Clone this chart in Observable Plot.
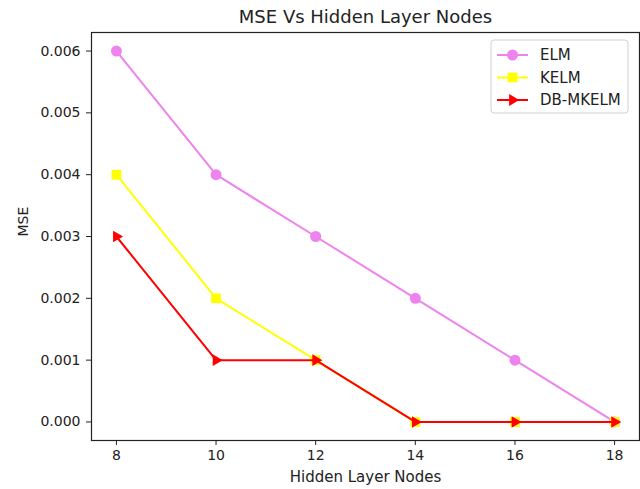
<!DOCTYPE html>
<html>
<head>
<meta charset="utf-8">
<script src="https://cdn.jsdelivr.net/npm/d3@7"></script>
<script src="https://cdn.jsdelivr.net/npm/@observablehq/plot@0.6"></script>
<style>
  html, body { margin: 0; padding: 0; background: #fff; }
  #chart { position: relative; width: 640px; height: 489px; }
</style>
</head>
<body>
<div id="chart"></div>
<script>
const nodes = [8, 10, 12, 14, 16, 18];
const elm = [0.006, 0.004, 0.003, 0.002, 0.001, 0.000];
const kelm = [0.004, 0.002, 0.001, 0.000, 0.000, 0.000];
const dbmkelm = [0.003, 0.001, 0.001, 0.000, 0.000, 0.000];
const seriesNames = ["ELM", "KELM", "DB-MKELM"];
const seriesColors = ["violet", "yellow", "red"];
const xTicks = [8, 10, 12, 14, 16, 18];
const yTicks = [0, 0.001, 0.002, 0.003, 0.004, 0.005, 0.006];
const title = "MSE Vs Hidden Layer Nodes";
const xLabel = "Hidden Layer Nodes";
const yLabel = "MSE";

const rows = (vals, name) => nodes.map((n, i) => ({ x: n, y: vals[i], s: name }));
const dElm = rows(elm, "ELM");
const dKelm = rows(kelm, "KELM");
const dDb = rows(dbmkelm, "DB-MKELM");

const font = "DejaVu Sans";
const plot = Plot.plot({
  width: 640,
  height: 489,
  marginLeft: 91,
  marginRight: 1,
  marginTop: 32,
  marginBottom: 49,
  style: { fontFamily: font, fontSize: "14px", color: "#222", background: "white" },
  x: { domain: [7.5, 18.5] },
  y: { domain: [-0.0003, 0.0063] },
  marks: [
    Plot.axisX({ ticks: xTicks, tickSize: 5, tickPadding: 5, label: null, fontSize: 14, tickFormat: d => String(d) }),
    Plot.axisY({ ticks: yTicks, tickSize: 5, tickPadding: 6, label: null, fontSize: 14, tickFormat: d3.format(".3f") }),
    Plot.line(dElm, { x: "x", y: "y", stroke: seriesColors[0], strokeWidth: 2 }),
    Plot.dot(dElm, { x: "x", y: "y", fill: seriesColors[0], r: 5.5, symbol: "circle" }),
    Plot.line(dKelm, { x: "x", y: "y", stroke: seriesColors[1], strokeWidth: 2 }),
    Plot.dot(dKelm, { x: "x", y: "y", fill: seriesColors[1], r: 5.5, symbol: "square" }),
    Plot.line(dDb, { x: "x", y: "y", stroke: seriesColors[2], strokeWidth: 2 }),
    Plot.dot(dDb, { x: "x", y: "y", fill: seriesColors[2], r: 4.3, symbol: "triangle", rotate: 90 }),
    Plot.frame({ stroke: "#222", strokeWidth: 1.2 }),
    Plot.text([title], { frameAnchor: "top", dy: -22, fontSize: 18, fill: "#222" }),
    Plot.text([xLabel], { frameAnchor: "bottom", dy: 41, fontSize: 15, fill: "#222" }),
    Plot.text([yLabel], { frameAnchor: "left", dx: -68, rotate: -90, fontSize: 14, fill: "#222" })
  ]
});
document.getElementById("chart").appendChild(plot);

// Legend (matplotlib style, upper right)
const svg = d3.select(plot);
const lg = svg.append("g").attr("font-family", font).attr("font-size", 15).attr("text-anchor", "start");
const lx = 491, ly = 40, lw = 137, lh = 73;
lg.append("rect").attr("x", lx).attr("y", ly).attr("width", lw).attr("height", lh)
  .attr("rx", 3).attr("fill", "white").attr("fill-opacity", 0.8).attr("stroke", "#d0d0d0");
const symbols = [d3.symbolCircle, d3.symbolSquare, d3.symbolTriangle];
const symSizes = [95, 95, 60];
seriesNames.forEach((name, i) => {
  const cy = ly + 15 + i * 22.5;
  lg.append("line").attr("x1", lx + 6).attr("x2", lx + 37).attr("y1", cy).attr("y2", cy)
    .attr("stroke", seriesColors[i]).attr("stroke-width", 2);
  lg.append("path").attr("d", d3.symbol(symbols[i], symSizes[i])())
    .attr("transform", `translate(${lx + 21.5},${cy})` + (i === 2 ? " rotate(90)" : ""))
    .attr("fill", seriesColors[i]);
  lg.append("text").attr("x", lx + 49).attr("y", cy).attr("dy", "0.35em").attr("fill", "#222").text(name);
});
</script>
</body>
</html>
